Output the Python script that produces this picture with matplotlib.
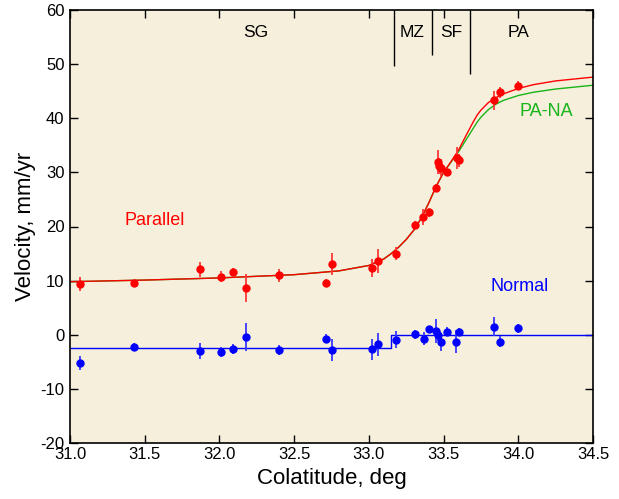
import matplotlib
matplotlib.use("Agg")
import matplotlib.pyplot as plt

plt.rcParams['font.family'] = ['Liberation Sans', 'DejaVu Sans']
plt.rcParams['axes.unicode_minus'] = False

# parallel (red) observations: colatitude, velocity, error
par_x = [31.07, 31.43, 31.87, 32.01, 32.09, 32.18, 32.40, 32.71, 32.75,
         33.02, 33.06, 33.18, 33.31, 33.36, 33.40, 33.45, 33.46, 33.47,
         33.48, 33.52, 33.59, 33.60, 33.84, 33.88, 34.00]
par_v = [9.4, 9.5, 12.1, 10.7, 11.6, 8.6, 11.0, 9.6, 13.1,
         12.3, 13.7, 15.0, 20.3, 21.7, 22.6, 27.1, 31.9, 31.2,
         30.9, 30.1, 32.7, 32.2, 43.3, 44.8, 46.0]
par_e = [1.3, 0.6, 1.4, 1.0, 0.8, 2.6, 1.2, 0.7, 2.0,
         1.7, 2.2, 1.2, 0.8, 1.5, 0.8, 0.8, 2.2, 1.5,
         1.5, 0.8, 2.0, 1.2, 1.7, 1.0, 0.8]

# normal (blue) observations
nor_x = [31.07, 31.43, 31.87, 32.01, 32.09, 32.18, 32.40, 32.71, 32.75,
         33.02, 33.06, 33.18, 33.31, 33.37, 33.40, 33.45, 33.46, 33.48,
         33.52, 33.58, 33.60, 33.84, 33.88, 34.00]
nor_v = [-5.2, -2.2, -3.0, -3.2, -2.6, -0.4, -2.8, -0.7, -2.8,
         -2.7, -1.8, -0.9, 0.1, -0.7, 1.0, 0.7, 0.0, -1.3,
         0.6, -1.3, 0.5, 1.5, -1.3, 1.2]
nor_e = [1.3, 0.7, 1.4, 1.0, 0.9, 2.6, 0.9, 0.8, 2.0,
         1.9, 2.2, 1.6, 0.8, 1.2, 0.7, 2.2, 1.2, 1.7,
         0.8, 2.1, 0.8, 1.8, 1.0, 0.8]

# model curves
fit_x = [31.0, 31.5, 32.0, 32.5, 32.8, 33.0, 33.1, 33.15, 33.2, 33.25, 33.3,
         33.35, 33.4, 33.45, 33.5, 33.55, 33.6, 33.65, 33.7, 33.725, 33.75,
         33.8, 33.85, 33.9, 34.0, 34.1, 34.25, 34.5]
par_fit = [9.8, 10.1, 10.5, 11.1, 11.8, 12.8, 14.0, 15.0, 16.2, 17.6, 19.3,
           21.5, 24.3, 27.4, 30.0, 32.0, 34.1, 36.8, 39.4, 40.6, 41.5,
           42.9, 43.8, 44.5, 45.5, 46.2, 46.9, 47.6]
pana_fit = [9.8, 10.1, 10.5, 11.1, 11.8, 12.8, 14.0, 15.0, 16.2, 17.6, 19.3,
            21.5, 24.3, 27.4, 30.0, 31.9, 33.8, 36.0, 38.2, 39.3, 40.2,
            41.6, 42.6, 43.3, 44.2, 44.8, 45.4, 46.1]
nor_fit_x = [31.0, 33.15, 33.15, 34.5]
nor_fit = [-2.5, -2.5, 0.0, 0.0]

# zone boundaries and labels
zone_x = [33.17, 33.42, 33.68]
zone_bottom = [49.7, 51.6, 48.2]
zone_names = ['SG', 'MZ', 'SF', 'PA']
zone_label_x = [32.24, 33.29, 33.55, 34.0]

fig = plt.figure(figsize=(6.19, 4.99), dpi=100)
ax = fig.add_axes([70 / 619, 1 - 443 / 499, 523 / 619, 433 / 499])
ax.set_facecolor('#F6EFDC')

ax.plot(fit_x, pana_fit, color='#18B418', lw=1.0)
ax.plot(fit_x, par_fit, color='red', lw=1.0)
ax.plot(nor_fit_x, nor_fit, color='blue', lw=1.0)

ax.errorbar(par_x, par_v, yerr=par_e, fmt='o', color='red', ms=5,
            elinewidth=1.3, capsize=0, ecolor='#FF3838')
ax.errorbar(nor_x, nor_v, yerr=nor_e, fmt='o', color='blue', ms=5,
            elinewidth=1.3, capsize=0, ecolor='#3838FF')

ax.vlines(zone_x, zone_bottom, 60, color='black', lw=1.0)
for name, zx in zip(zone_names, zone_label_x):
    ax.text(zx, 55.9, name, ha='center', va='center', fontsize=12.5)

ax.text(31.57, 21.2, 'Parallel', color='red', ha='center', va='center', fontsize=13)
ax.text(34.01, 9.0, 'Normal', color='blue', ha='center', va='center', fontsize=13)
ax.text(34.19, 41.2, 'PA-NA', color='#18B418', ha='center', va='center', fontsize=13)

ax.set_xlim(31.0, 34.5)
ax.set_ylim(-20, 60)
ax.set_xticks([31.0, 31.5, 32.0, 32.5, 33.0, 33.5, 34.0, 34.5])
ax.set_xticklabels(['31.0', '31.5', '32.0', '32.5', '33.0', '33.5', '34.0', '34.5'])
ax.set_yticks(range(-20, 61, 10))
ax.tick_params(direction='in', top=True, right=True, length=6, width=1,
               labelsize=12, pad=3)
ax.tick_params(axis='y', pad=4)
for sp in ax.spines.values():
    sp.set_linewidth(1.2)

ax.set_xlabel('Colatitude, deg', fontsize=16, labelpad=4)
ax.set_ylabel('Velocity, mm/yr', fontsize=16, labelpad=3)

fig.savefig('out.png', dpi=100)
